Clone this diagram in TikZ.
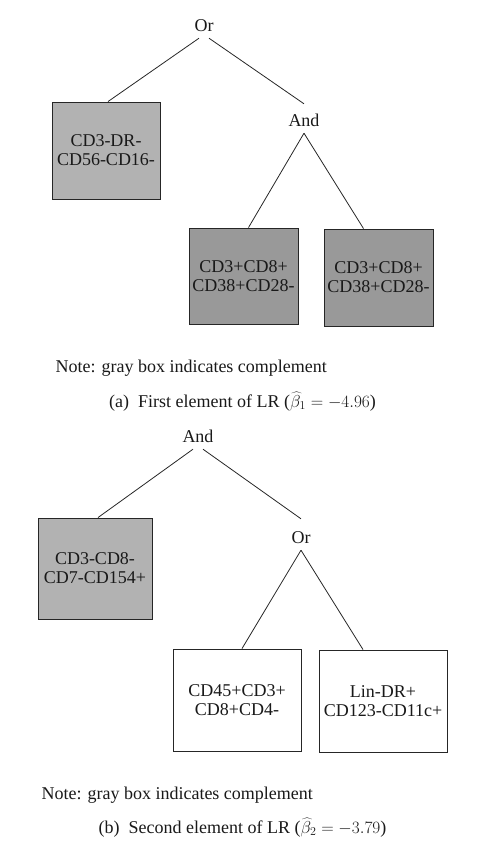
\documentclass[tikz,border=0pt]{standalone}
\usepackage{fontspec}
\setmainfont{Liberation Serif}

\begin{document}
\begin{tikzpicture}[x=1pt,y=-1pt,
  font=\fontsize{18}{19}\selectfont,
  every node/.style={text=black!90},
  gate/.style={inner sep=0pt,text height=12pt,text depth=7pt,anchor=base},
  cellbox/.style={draw=black!85,line width=0.9pt,align=center,inner sep=0pt},
  complight/.style={cellbox,fill=black!30},
  compdark/.style={cellbox,fill=black!40},
  cellwhite/.style={cellbox,fill=white},
  branch/.style={line width=0.8pt,black!85}]
\useasboundingbox (0,0) rectangle (483,849);
% (a) first element
\node[gate] (or1) at (204,31) {Or};
\node[gate] (and1) at (304,126) {And};
\node[complight,minimum width=108pt,minimum height=97pt] (cd3dr) at (106,150.5) {CD3-DR-\\CD56-CD16-};
\node[compdark,minimum width=109pt,minimum height=96pt] (cd38a) at (243.5,276) {CD3+CD8+\\CD38+CD28-};
\node[compdark,minimum width=109pt,minimum height=97pt] (cd38b) at (378.5,277.5) {CD3+CD8+\\CD38+CD28-};
\draw[branch] ([xshift=-5pt]or1.south) -- ([xshift=2pt]cd3dr.north);
\draw[branch] ([xshift=5pt]or1.south) -- ([yshift=10pt]and1.north);
\draw[branch] (and1.south) -- ([xshift=5pt]cd38a.north);
\draw[branch] (and1.south) -- ([xshift=-15pt]cd38b.north);
\node[anchor=base west] (note1) at (52,372.7) {Note: gray box indicates complement};
\node[anchor=base] (capa) at (242.5,407) {(a)\enspace First element of LR ($\widehat{\beta}_1 = -4.96$)};
% (b) second element
\node[gate] (and2) at (198,442) {And};
\node[gate] (or2) at (301,543) {Or};
\node[complight,minimum width=114pt,minimum height=101pt] (cd154) at (95,568.5) {CD3-CD8-\\CD7-CD154+};
\node[cellwhite,minimum width=128pt,minimum height=102pt] (cd45) at (237,700) {CD45+CD3+\\CD8+CD4-};
\node[cellwhite,minimum width=128pt,minimum height=102pt] (lindr) at (383,701) {Lin-DR+\\CD123-CD11c+};
\draw[branch] ([xshift=-5pt]and2.south) -- ([xshift=3pt]cd154.north);
\draw[branch] ([xshift=5pt]and2.south) -- ([yshift=12pt]or2.north);
\draw[branch] (or2.south) -- ([xshift=5pt]cd45.north);
\draw[branch] (or2.south) -- ([xshift=-20pt]lindr.north);
\node[anchor=base west] (note2) at (38,799) {Note: gray box indicates complement};
\node[anchor=base] (capb) at (242.5,833) {(b)\enspace Second element of LR ($\widehat{\beta}_2 = -3.79$)};
\end{tikzpicture}
\end{document}
